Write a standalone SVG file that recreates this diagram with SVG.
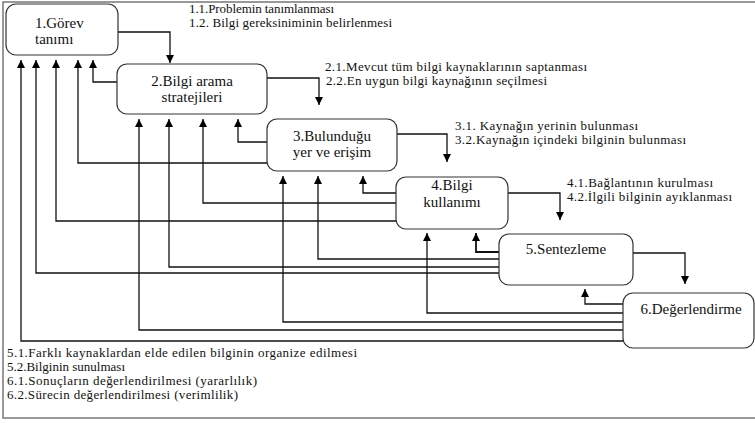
<svg xmlns="http://www.w3.org/2000/svg" width="755" height="423" viewBox="0 0 755 423">
<style>
.box{fill:#fff;stroke:#333;stroke-width:1.2}
.lbl{font-family:"Liberation Serif","Times New Roman",serif;font-size:15px;fill:#111}
.ann{font-family:"Liberation Serif","Times New Roman",serif;font-size:13px;fill:#111}
.c{fill:none;stroke:#111;stroke-width:1.3}
</style>
<defs>
<marker id="ah" viewBox="0 0 10 10" refX="10" refY="5" markerWidth="8" markerHeight="8" markerUnits="userSpaceOnUse" orient="auto">
<path d="M0,0 L10,5 L0,10 z" fill="#000"/>
</marker>
</defs>
<rect x="0" y="0" width="755" height="423" fill="#fff"/>
<rect x="3" y="2" width="760" height="416" fill="none" stroke="#777" stroke-width="1.5"/>
<g id="connectors">
<path class="c" marker-end="url(#ah)" d="M118,32 H170 V63"/>
<path class="c" marker-end="url(#ah)" d="M267,78 H319 V105"/>
<path class="c" marker-end="url(#ah)" d="M397,134 H447 V162"/>
<path class="c" marker-end="url(#ah)" d="M508,193 H560 V220"/>
<path class="c" marker-end="url(#ah)" d="M633,253 H685 V284"/>
<path class="c" marker-end="url(#ah)" d="M623,341 H21 V60"/>
<path class="c" marker-end="url(#ah)" d="M499,273 H36 V60"/>
<path class="c" marker-end="url(#ah)" d="M396,221 H56 V60"/>
<path class="c" marker-end="url(#ah)" d="M267,163 H78 V60"/>
<path class="c" marker-end="url(#ah)" d="M117,82 H93 V60"/>
<path class="c" marker-end="url(#ah)" d="M623,330 H139 V119"/>
<path class="c" marker-end="url(#ah)" d="M499,267 H169 V119"/>
<path class="c" marker-end="url(#ah)" d="M396,203 H203 V119"/>
<path class="c" marker-end="url(#ah)" d="M267,142 H238 V119"/>
<path class="c" marker-end="url(#ah)" d="M623,322 H283 V176"/>
<path class="c" marker-end="url(#ah)" d="M499,259 H318 V176"/>
<path class="c" marker-end="url(#ah)" d="M396,193 H363 V176"/>
<path class="c" marker-end="url(#ah)" d="M623,313 H427 V233"/>
<path class="c" marker-end="url(#ah)" d="M499,252 H476 V233" style="stroke-width:1.8"/>
<path class="c" marker-end="url(#ah)" d="M623,304 H585 V289"/>
</g>
<g id="n1"><rect class="box" x="6" y="4" width="112" height="51" rx="10"/>
<text class="lbl" x="35" y="28">1.Görev</text><text class="lbl" x="35" y="44">tanımı</text></g>
<g id="n2"><rect class="box" x="117" y="64" width="150" height="50" rx="10"/>
<text class="lbl" x="192" y="86" text-anchor="middle">2.Bilgi arama</text><text class="lbl" x="192" y="102" text-anchor="middle">stratejileri</text></g>
<g id="n3"><rect class="box" x="267" y="119" width="130" height="52" rx="10"/>
<text class="lbl" x="332" y="141" text-anchor="middle">3.Bulunduğu</text><text class="lbl" x="332" y="157" text-anchor="middle">yer ve erişim</text></g>
<g id="n4"><rect class="box" x="396" y="177" width="112" height="52" rx="10"/>
<text class="lbl" x="452" y="190" text-anchor="middle">4.Bilgi</text><text class="lbl" x="452" y="207" text-anchor="middle">kullanımı</text></g>
<g id="n5"><rect class="box" x="499" y="234" width="134" height="51" rx="10"/>
<text class="lbl" x="566" y="254" text-anchor="middle">5.Sentezleme</text></g>
<g id="n6"><rect class="box" x="623" y="293" width="131" height="55" rx="10"/>
<text class="lbl" x="691" y="314" text-anchor="middle">6.Değerlendirme</text></g>
<g id="notes">
<text class="ann" x="189" y="13" textLength="145">1.1.Problemin tanımlanması</text>
<text class="ann" x="189" y="27" textLength="203">1.2. Bilgi gereksiniminin belirlenmesi</text>
<text class="ann" x="325" y="71" textLength="262">2.1.Mevcut tüm bilgi kaynaklarının saptanması</text>
<text class="ann" x="326" y="85" textLength="221">2.2.En uygun bilgi kaynağının seçilmesi</text>
<text class="ann" x="455" y="130" textLength="183">3.1. Kaynağın yerinin bulunması</text>
<text class="ann" x="455" y="144" textLength="231">3.2.Kaynağın içindeki bilginin bulunması</text>
<text class="ann" x="567" y="187" textLength="146">4.1.Bağlantının kurulması</text>
<text class="ann" x="567" y="201" textLength="165">4.2.İlgili bilginin ayıklanması</text>
<text class="ann" x="7" y="357" textLength="350">5.1.Farklı kaynaklardan elde edilen bilginin organize edilmesi</text>
<text class="ann" x="7" y="371" textLength="118">5.2.Bilginin sunulması</text>
<text class="ann" x="7" y="385" textLength="250">6.1.Sonuçların değerlendirilmesi (yararlılık)</text>
<text class="ann" x="7" y="399" textLength="231">6.2.Sürecin değerlendirilmesi (verimlilik)</text>
</g>
</svg>
